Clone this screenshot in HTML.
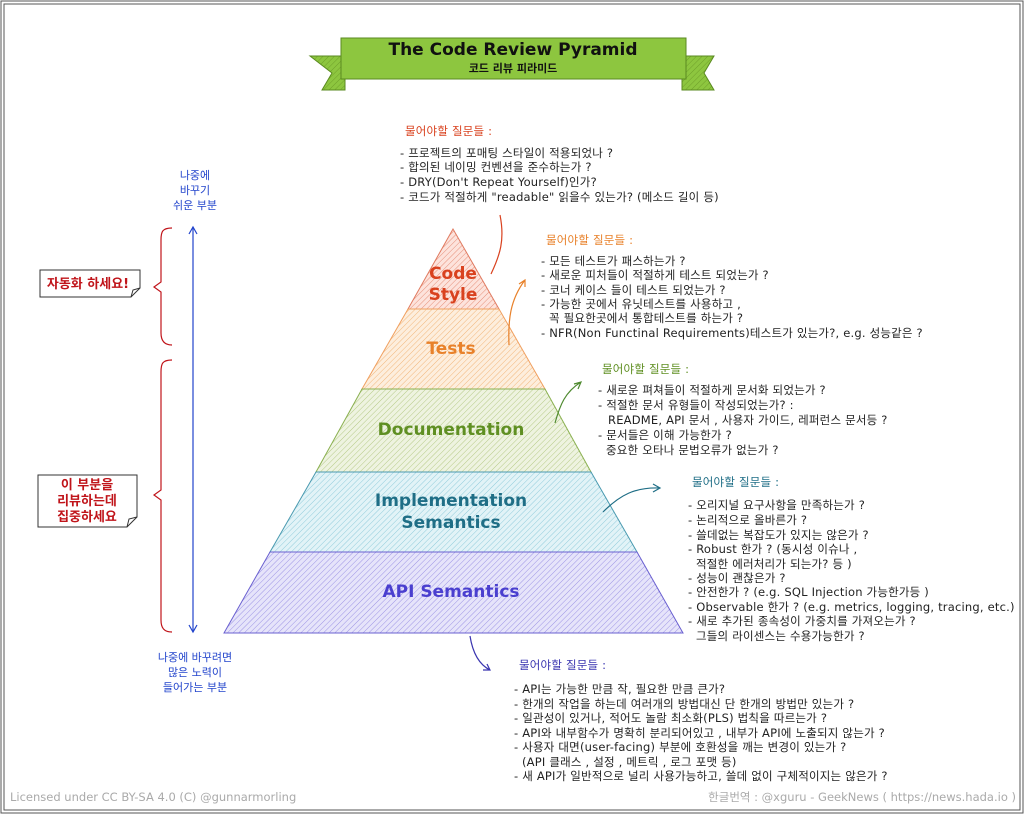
<!DOCTYPE html>
<html><head><meta charset="utf-8"><style>
html,body{margin:0;padding:0;background:#fff;}
svg text{font-family:"DejaVu Sans","Noto Sans CJK KR",sans-serif;}
</style></head><body>
<svg width="1024" height="814" viewBox="0 0 1024 814" xmlns="http://www.w3.org/2000/svg">
<defs>
<pattern id="hr" width="4" height="4" patternUnits="userSpaceOnUse" patternTransform="rotate(45)"><rect width="4" height="4" fill="#fde3dc"/><line x1="0" y1="0" x2="0" y2="4" stroke="#e07a60" stroke-width="0.8"/></pattern>
<pattern id="ho" width="4" height="4" patternUnits="userSpaceOnUse" patternTransform="rotate(45)"><rect width="4" height="4" fill="#fdeedd"/><line x1="0" y1="0" x2="0" y2="4" stroke="#f0a860" stroke-width="0.8"/></pattern>
<pattern id="hg" width="4" height="4" patternUnits="userSpaceOnUse" patternTransform="rotate(45)"><rect width="4" height="4" fill="#eef3e0"/><line x1="0" y1="0" x2="0" y2="4" stroke="#a8c070" stroke-width="0.8"/></pattern>
<pattern id="hb" width="4" height="4" patternUnits="userSpaceOnUse" patternTransform="rotate(45)"><rect width="4" height="4" fill="#e2f3f7"/><line x1="0" y1="0" x2="0" y2="4" stroke="#7cc2d4" stroke-width="0.8"/></pattern>
<pattern id="hp" width="4" height="4" patternUnits="userSpaceOnUse" patternTransform="rotate(45)"><rect width="4" height="4" fill="#e6e4fa"/><line x1="0" y1="0" x2="0" y2="4" stroke="#8a80e0" stroke-width="0.8"/></pattern>
<pattern id="hgr" width="4" height="4" patternUnits="userSpaceOnUse" patternTransform="rotate(45)"><rect width="4" height="4" fill="#8dc63f"/><line x1="0" y1="0" x2="0" y2="4" stroke="#6fa02a" stroke-width="1"/></pattern>
</defs>
<rect x="1" y="1" width="1022" height="812" fill="none" stroke="#555" stroke-width="1"/>
<rect x="4" y="4" width="1016" height="806" fill="none" stroke="#555" stroke-width="1"/>

<polygon points="310,56 345,56 345,90 322,90 332,73" fill="url(#hgr)" stroke="#5a8a20"/>
<polygon points="682,56 714,56 704,73 714,90 682,90" fill="url(#hgr)" stroke="#5a8a20"/>
<rect x="341" y="38" width="345" height="41" fill="#8dc63f" stroke="#5a8a20"/>
<text x="513" y="55" text-anchor="middle" font-size="17" font-weight="bold" fill="#111">The Code Review Pyramid</text>
<text x="513" y="72" text-anchor="middle" font-size="11" font-weight="bold" fill="#111">코드 리뷰 피라미드</text>

<polygon points="453,229 408,309 499,309" fill="url(#hr)" stroke="#e07a60"/>
<polygon points="408,309 499,309 545,389 362,389" fill="url(#ho)" stroke="#f0a060"/>
<polygon points="362,389 545,389 591,472 316,472" fill="url(#hg)" stroke="#8ab050"/>
<polygon points="316,472 591,472 637,552 270,552" fill="url(#hb)" stroke="#4a9ab0"/>
<polygon points="270,552 637,552 683,633 224,633" fill="url(#hp)" stroke="#6a60d0"/>
<g font-weight="bold" text-anchor="middle">
<text x="453" y="279" font-size="17" fill="#d9411e">Code</text>
<text x="453" y="300" font-size="17" fill="#d9411e">Style</text>
<text x="451" y="354" font-size="17" fill="#e8812a">Tests</text>
<text x="451" y="435" font-size="17" fill="#5f8f22">Documentation</text>
<text x="451" y="506" font-size="17" fill="#1f6e86">Implementation</text>
<text x="451" y="528" font-size="17" fill="#1f6e86">Semantics</text>
<text x="451" y="597" font-size="17" fill="#4a3fcf">API Semantics</text>
</g>

<g fill="none" stroke-width="1.2">
<path d="M491,274 C500,255 505,240 500,215" stroke="#d9411e"/>
<path d="M509,345 C508,320 510,300 525,280 M519,284 L525,280 L525,287" stroke="#e8812a"/>
<path d="M555,423 C560,405 565,392 581,382 M574,384 L581,382 L578,389" stroke="#4f8a30"/>
<path d="M603,512 C620,495 635,487 660,488 M653,484 L660,488 L653,492" stroke="#1f6e86"/>
<path d="M470,636 C473,655 480,665 490,670 M483,670 L490,670 L487,664" stroke="#3a35b0"/>
</g>

<g stroke="#2244cc" stroke-width="1.2" fill="none">
<line x1="193" y1="227" x2="193" y2="632"/>
<path d="M189,234 L193,227 L197,234 M189,625 L193,632 L197,625"/>
</g>
<g stroke="#c0141a" stroke-width="1.2" fill="none">
<path d="M172,228 C162,228 161,232 161,240 L161,282 L154,287 L161,292 L161,333 C161,340 164,345 172,345"/>
<path d="M172,360 C162,360 161,364 161,372 L161,490 L154,495 L161,500 L161,620 C161,628 164,632 172,632"/>
</g>
<g fill="#2244cc" font-size="11" text-anchor="middle">
<text x="195" y="179">나중에</text><text x="195" y="194">바꾸기</text><text x="195" y="209">쉬운 부분</text>
<text x="195" y="661">나중에 바꾸려면</text><text x="195" y="676">많은 노력이</text><text x="195" y="691">들어가는 부분</text>
</g>
<path d="M40,270 L140,270 L140,288 L131,297 L40,297 Z" fill="#fff" stroke="#333"/>
<path d="M131,297 L133,290 L140,288" fill="none" stroke="#333"/>
<text x="88" y="288" text-anchor="middle" font-size="13" font-weight="bold" fill="#c0141a">자동화 하세요!</text>
<path d="M38,475 L137,475 L137,517 L127,527 L38,527 Z" fill="#fff" stroke="#333"/>
<path d="M127,527 L129,519 L137,517" fill="none" stroke="#333"/>
<g text-anchor="middle" font-size="13" font-weight="bold" fill="#c0141a">
<text x="87" y="489">이 부분을</text><text x="87" y="505">리뷰하는데</text><text x="87" y="521">집중하세요</text>
</g>

<g font-size="11.5" fill="#222" letter-spacing="0.2">
<text x="405" y="135" fill="#d9411e">물어야할 질문들 :</text>
<text x="400" y="157">- 프로젝트의 포매팅 스타일이 적용되었나 ?</text>
<text x="400" y="171">- 합의된 네이밍 컨벤션을 준수하는가 ?</text>
<text x="400" y="186">- DRY(Don't Repeat Yourself)인가?</text>
<text x="400" y="201">- 코드가 적절하게 "readable" 읽을수 있는가? (메소드 길이 등)</text>

<text x="546" y="244" fill="#e8812a">물어야할 질문들 :</text>
<text x="541" y="265">- 모든 테스트가 패스하는가 ?</text>
<text x="541" y="279">- 새로운 피처들이 적절하게 테스트 되었는가 ?</text>
<text x="541" y="294">- 코너 케이스 들이 테스트 되었는가 ?</text>
<text x="541" y="308">- 가능한 곳에서 유닛테스트를 사용하고 ,</text>
<text x="549" y="322">꼭 필요한곳에서 통합테스트를 하는가 ?</text>
<text x="541" y="337">- NFR(Non Functinal Requirements)테스트가 있는가?, e.g. 성능같은 ?</text>

<text x="602" y="373" fill="#5f8f22">물어야할 질문들 :</text>
<text x="598" y="394">- 새로운 펴쳐들이 적절하게 문서화 되었는가 ?</text>
<text x="598" y="409">- 적절한 문서 유형들이 작성되었는가? :</text>
<text x="608" y="424">README, API 문서 , 사용자 가이드, 레퍼런스 문서등 ?</text>
<text x="598" y="439">- 문서들은 이해 가능한가 ?</text>
<text x="606" y="454">중요한 오타나 문법오류가 없는가 ?</text>

<text x="692" y="486" fill="#1f6e86">물어야할 질문들 :</text>
<text x="688" y="509">- 오리지널 요구사항을 만족하는가 ?</text>
<text x="688" y="524">- 논리적으로 올바른가 ?</text>
<text x="688" y="539">- 쓸데없는 복잡도가 있지는 않은가 ?</text>
<text x="688" y="553">- Robust 한가 ? (동시성 이슈나 ,</text>
<text x="696" y="568">적절한 에러처리가 되는가? 등 )</text>
<text x="688" y="582">- 성능이 괜찮은가 ?</text>
<text x="688" y="596">- 안전한가 ? (e.g. SQL Injection 가능한가등 )</text>
<text x="688" y="611">- Observable 한가  ? (e.g. metrics, logging, tracing, etc.)</text>
<text x="688" y="625">- 새로 추가된 종속성이 가중치를 가져오는가 ?</text>
<text x="696" y="640">그들의 라이센스는 수용가능한가 ?</text>

<text x="519" y="669" fill="#3a35b0">물어야할 질문들 :</text>
<text x="514" y="693">- API는 가능한 만큼 작, 필요한 만큼 큰가?</text>
<text x="514" y="708">- 한개의 작업을 하는데 여러개의 방법대신 단 한개의 방법만 있는가 ?</text>
<text x="514" y="722">- 일관성이 있거나, 적어도 놀람 최소화(PLS) 법칙을 따르는가 ?</text>
<text x="514" y="737">- API와 내부함수가 명확히 분리되어있고 , 내부가 API에 노출되지 않는가 ?</text>
<text x="514" y="751">- 사용자 대면(user-facing) 부분에 호환성을 깨는 변경이 있는가 ?</text>
<text x="522" y="766">(API 클래스 , 설정 , 메트릭 , 로그 포맷 등)</text>
<text x="514" y="780">- 새 API가 일반적으로 널리 사용가능하고, 쓸데 없이 구체적이지는 않은가 ?</text>
</g>

<text x="10" y="801" font-size="11.5" fill="#aaa">Licensed under CC BY-SA 4.0 (C) @gunnarmorling</text>
<text x="1016" y="801" font-size="11.5" fill="#aaa" text-anchor="end">한글번역 : @xguru - GeekNews ( https://news.hada.io )</text>
</svg>
</body></html>
